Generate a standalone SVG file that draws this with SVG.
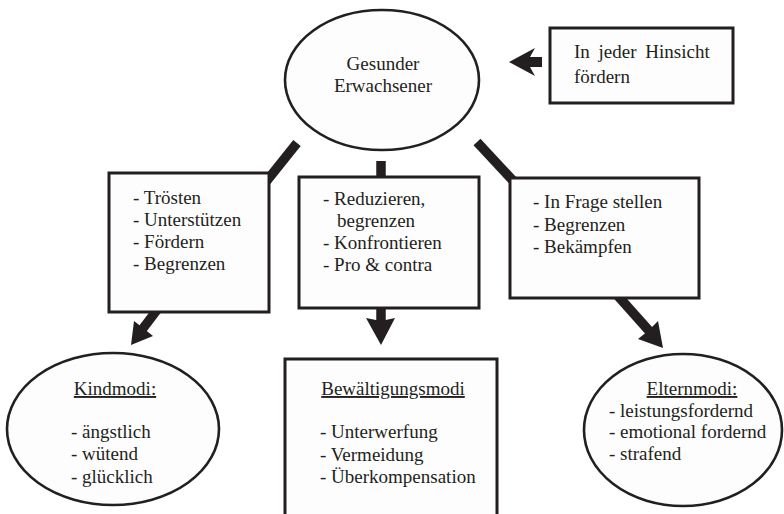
<svg xmlns="http://www.w3.org/2000/svg" width="784" height="514" viewBox="0 0 784 514">
<defs>
<style>
.shape{fill:#fdfdfd;stroke:#231f20;stroke-width:3}
.ell{fill:#fdfdfd;stroke:#231f20;stroke-width:2.6}
.bar{stroke:#231f20;stroke-width:9.5;stroke-linecap:butt;fill:none}
.head{fill:#231f20;stroke:none}
text{font-family:"Liberation Serif","Times New Roman",serif;font-size:19px;fill:#231f20}
.c{text-anchor:middle}
.u{text-decoration:underline}
</style>
</defs>
<rect width="784" height="514" fill="#ffffff"/>
<g id="connectors">
<line class="bar" x1="297" y1="143" x2="261" y2="188"/>
<line class="bar" x1="381" y1="161" x2="381" y2="180"/>
<line class="bar" x1="477" y1="142" x2="517" y2="185"/>
<polygon class="head" points="542,57 530,57 535,48 509,62 535,76 530,67 542,67"/>
<line class="bar" x1="160" y1="306" x2="141" y2="331"/>
<polygon class="head" points="131,345 134,321 143,328 153,336"/>
<line class="bar" x1="381" y1="306" x2="381" y2="322"/>
<polygon class="head" points="366,318 381,321 395,318 381,345"/>
<line class="bar" x1="618" y1="296" x2="651" y2="333"/>
<polygon class="head" points="663,348 658,321 648,331 638,339"/>
</g>
<g id="gesunder">
<ellipse class="ell" cx="382" cy="80" rx="97" ry="70"/>
<text class="c" x="383" y="70">Gesunder</text>
<text class="c" x="383" y="92">Erwachsener</text>
</g>
<g id="hinsicht">
<rect class="shape" x="550" y="28" width="183" height="75"/>
<text x="574" y="58" word-spacing="4">In jeder Hinsicht</text>
<text x="574" y="83">fördern</text>
</g>
<g id="box-kind">
<rect class="shape" x="109" y="173" width="160" height="139"/>
<text x="133" y="204">- Trösten</text>
<text x="133" y="226">- Unterstützen</text>
<text x="133" y="248">- Fördern</text>
<text x="133" y="270">- Begrenzen</text>
</g>
<g id="box-bew">
<rect class="shape" x="299" y="177" width="180" height="131"/>
<text x="323" y="205">- Reduzieren,</text>
<text x="337" y="227">begrenzen</text>
<text x="323" y="249">- Konfrontieren</text>
<text x="323" y="271">- Pro &amp; contra</text>
</g>
<g id="box-eltern">
<rect class="shape" x="510" y="178" width="189" height="120"/>
<text x="533" y="208">- In Frage stellen</text>
<text x="533" y="231">- Begrenzen</text>
<text x="533" y="253">- Bekämpfen</text>
</g>
<g id="kindmodi">
<ellipse class="ell" cx="113" cy="429" rx="106" ry="76"/>
<text class="c u" x="115" y="395">Kindmodi:</text>
<text x="71" y="438">- ängstlich</text>
<text x="71" y="460">- wütend</text>
<text x="71" y="483">- glücklich</text>
</g>
<g id="bewaeltigungsmodi">
<rect class="shape" x="285" y="359" width="212" height="175"/>
<text class="c u" x="393" y="395">Bewältigungsmodi</text>
<text x="320" y="438">- Unterwerfung</text>
<text x="320" y="461">- Vermeidung</text>
<text x="320" y="483">- Überkompensation</text>
</g>
<g id="elternmodi">
<ellipse class="ell" cx="683" cy="430" rx="99" ry="76"/>
<text class="c u" x="692" y="395">Elternmodi:</text>
<text x="609" y="417">- leistungsfordernd</text>
<text x="609" y="438">- emotional fordernd</text>
<text x="609" y="460">- strafend</text>
</g>
</svg>
